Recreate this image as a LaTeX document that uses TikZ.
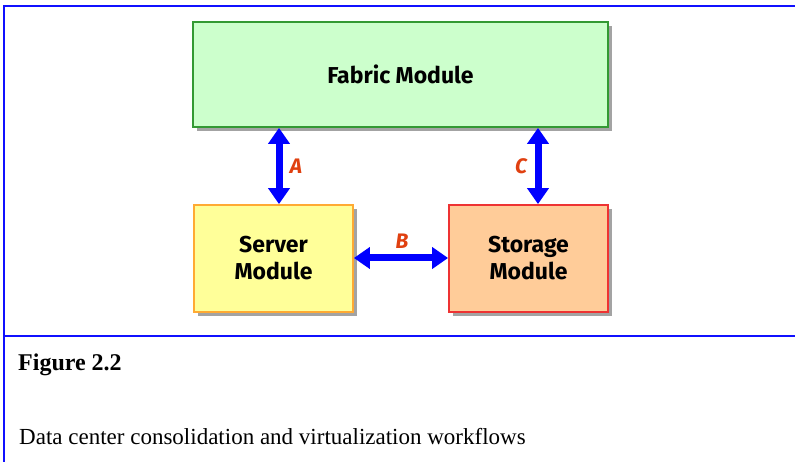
\documentclass[tikz,border=0pt]{standalone}
\usepackage{fontspec}
\setmainfont{Liberation Serif}
\newfontfamily\boxfont{Fira Sans}
\usetikzlibrary{arrows.meta,shadows}
\definecolor{fabfill}{HTML}{CCFFCC}
\definecolor{fabline}{HTML}{339933}
\definecolor{srvfill}{HTML}{FFFF99}
\definecolor{srvline}{HTML}{FFAA33}
\definecolor{stofill}{HTML}{FFCC99}
\definecolor{stoline}{HTML}{EE3333}
\definecolor{lblcol}{HTML}{E04010}
\definecolor{frame}{HTML}{1010FF}
\tikzset{
  x=1pt, y=-1pt,
  modbox/.style={draw, line width=1.8pt, inner sep=0pt, align=center,
    font=\boxfont\bfseries\fontsize{23}{27}\selectfont,
    drop shadow={shadow xshift=4pt, shadow yshift=-4pt, fill=black!45, opacity=0.8}},
  link/.style={draw=blue, line width=7pt, {Triangle[width=21pt,length=16pt]}-{Triangle[width=21pt,length=16pt]}},
  lbl/.style={text=lblcol, inner sep=0pt, font=\boxfont\bfseries\itshape\fontsize{21}{24}\selectfont},
  frameline/.style={draw=frame, line width=2pt}
}
\begin{document}
\begin{tikzpicture}
\useasboundingbox (0,0) rectangle (795,462);
\fill[white] (0,0) rectangle (795,462);
% frame
\coordinate (tl) at (4,6);
\coordinate (tr) at (795,6);
\coordinate (bl) at (4,462);
\coordinate (ml) at (4,336);
\coordinate (mr) at (795,336);
\draw[frameline] (tr) -- (tl) -- (bl);
\draw[frameline] (ml) -- (mr);
% boxes
\node[modbox, fill=fabfill, draw=fabline, minimum width=415pt, minimum height=105pt] (fab) at (400.5,74.5) {Fabric Module};
\node[modbox, fill=srvfill, draw=srvline, minimum width=159pt, minimum height=107pt] (srv) at (273.5,258.5) {Server\\Module};
\node[modbox, fill=stofill, draw=stoline, minimum width=159pt, minimum height=107pt] (sto) at (528.5,258.5) {Storage\\Module};
% connectors
\draw[link] (fab.south -| 279,0) -- (srv.north -| 279,0);
\draw[link] (fab.south -| 538,0) -- (sto.north -| 538,0);
\draw[link] (srv.east |- 0,258) -- (sto.west |- 0,258);
\node[lbl] (la) at (296,166) {A};
\node[lbl] (lc) at (521,166) {C};
\node[lbl] (lb) at (402,241) {B};
% caption
\node[anchor=base west, font=\bfseries\fontsize{24}{28}\selectfont, inner sep=0pt] (fig) at (18,370) {Figure 2.2};
\node[anchor=base west, font=\fontsize{23}{27}\selectfont, inner sep=0pt] (cap) at (19,444) {Data center consolidation and virtualization workflows};
\end{tikzpicture}
\end{document}
